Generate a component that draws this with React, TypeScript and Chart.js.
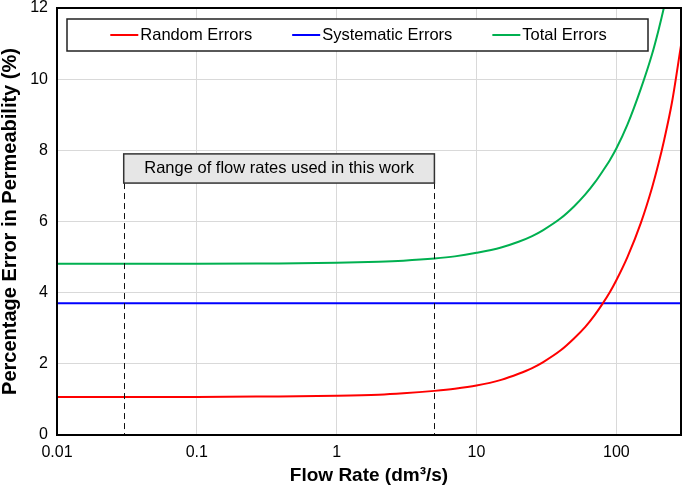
import { useEffect, useRef } from "react";
import { Chart, registerables } from "chart.js";

Chart.register(...registerables);

const flowRates = [0.01, 0.03, 0.1, 0.3, 1, 2, 3, 5, 7, 10, 15, 20, 25, 30, 40, 50, 60, 70, 80, 90, 100, 120, 150, 180, 200, 220, 250, 290];
const randomErrors = [1.07, 1.07, 1.07, 1.08, 1.1, 1.13, 1.17, 1.24, 1.3, 1.39, 1.55, 1.72, 1.88, 2.05, 2.38, 2.72, 3.04, 3.37, 3.7, 4.02, 4.35, 5.0, 5.97, 6.95, 7.62, 8.3, 9.35, 10.95];
const totalErrors = [4.81, 4.81, 4.81, 4.82, 4.84, 4.87, 4.9, 4.96, 5.02, 5.12, 5.27, 5.43, 5.59, 5.76, 6.09, 6.43, 6.76, 7.09, 7.42, 7.73, 8.05, 8.72, 9.74, 10.7, 11.37, 12.05, 13.1, 14.7];
const systematicFlow = [0.01, 290];
const systematicErrors = [3.7, 3.7];

const xTickValues = [0.01, 0.1, 1, 10, 100];
const xMin = 0.01;
const xMax = 290;
const yMin = 0;
const yMax = 12;
const yStep = 2;

const rangeLow = 0.03;
const rangeHigh = 5;
const rangeBoxTop = 7.9;
const rangeBoxBottom = 7.08;
const rangeLabel = "Range of flow rates used in this work";

const seriesLabels = ["Random Errors", "Systematic Errors", "Total Errors"];
const FONT = 'Arial, "Liberation Sans", sans-serif';

const overlayPlugin = {
  id: "overlay",
  afterDatasetsDraw(chart: any) {
    const ctx = chart.ctx;
    const area = chart.chartArea;
    const xs = chart.scales.x;
    const ys = chart.scales.y;
    ctx.save();

    // Range annotation
    const x1 = xs.getPixelForValue(rangeLow);
    const x2 = xs.getPixelForValue(rangeHigh);
    const yT = ys.getPixelForValue(rangeBoxTop);
    const yB = ys.getPixelForValue(rangeBoxBottom);
    ctx.setLineDash([6, 4]);
    ctx.strokeStyle = "#111";
    ctx.lineWidth = 1;
    [x1, x2].forEach((x) => {
      ctx.beginPath();
      ctx.moveTo(Math.round(x) + 0.5, yB);
      ctx.lineTo(Math.round(x) + 0.5, area.bottom);
      ctx.stroke();
    });
    ctx.setLineDash([]);
    ctx.fillStyle = "#e6e6e6";
    ctx.fillRect(x1, yT, x2 - x1, yB - yT);
    ctx.strokeStyle = "#333";
    ctx.lineWidth = 1.5;
    ctx.strokeRect(x1, yT, x2 - x1, yB - yT);
    ctx.fillStyle = "#000";
    ctx.font = "16.5px " + FONT;
    ctx.textAlign = "center";
    ctx.textBaseline = "middle";
    ctx.fillText(rangeLabel, (x1 + x2) / 2, (yT + yB) / 2);

    // Legend box
    const bx = area.left + 10;
    const by = area.top + 11;
    const bw = 581;
    const bh = 32;
    ctx.fillStyle = "#fff";
    ctx.fillRect(bx, by, bw, bh);
    ctx.strokeStyle = "#222";
    ctx.lineWidth = 1.5;
    ctx.strokeRect(bx, by, bw, bh);
    const items = chart.data.datasets.map((d: any) => ({ label: d.label, color: d.borderColor }));
    const lineLen = 28;
    const gap = 2;
    const spacing = 40;
    ctx.font = "16.5px " + FONT;
    const widths = items.map((it: any) => lineLen + gap + ctx.measureText(it.label).width);
    const total = widths.reduce((a: number, b: number) => a + b, 0) + spacing * (items.length - 1);
    let cx = bx + (bw - total) / 2 + 1;
    const cy = by + bh / 2;
    ctx.textAlign = "left";
    items.forEach((it: any, i: number) => {
      ctx.strokeStyle = it.color;
      ctx.lineWidth = 2;
      ctx.beginPath();
      ctx.moveTo(cx, cy);
      ctx.lineTo(cx + lineLen, cy);
      ctx.stroke();
      ctx.fillStyle = "#000";
      ctx.fillText(it.label, cx + lineLen + gap, cy);
      cx += widths[i] + spacing;
    });

    // Frame
    ctx.strokeStyle = "#000";
    ctx.lineWidth = 2;
    ctx.strokeRect(area.left, area.top, area.right - area.left, area.bottom - area.top);
    ctx.restore();
  },
};

export default function App() {
  const ref = useRef<HTMLCanvasElement | null>(null);
  useEffect(() => {
    document.body.style.margin = "0";
    const canvas = ref.current;
    if (!canvas) return;
    const chart = new Chart(canvas, {
      type: "line",
      data: {
        datasets: [
          {
            label: seriesLabels[0],
            data: flowRates.map((x, i) => ({ x, y: randomErrors[i] })),
            borderColor: "#ff0000",
            borderWidth: 2,
            pointRadius: 0,
            cubicInterpolationMode: "monotone",
          },
          {
            label: seriesLabels[1],
            data: systematicFlow.map((x, i) => ({ x, y: systematicErrors[i] })),
            borderColor: "#0000ff",
            borderWidth: 2,
            pointRadius: 0,
          },
          {
            label: seriesLabels[2],
            data: flowRates.map((x, i) => ({ x, y: totalErrors[i] })),
            borderColor: "#00b050",
            borderWidth: 2,
            pointRadius: 0,
            cubicInterpolationMode: "monotone",
          },
        ],
      },
      options: {
        responsive: false,
        devicePixelRatio: 1,
        animation: false,
        layout: { padding: { top: 8, right: 4, left: 0, bottom: 0 } },
        plugins: { legend: { display: false }, tooltip: { enabled: false } },
        scales: {
          x: {
            type: "logarithmic",
            min: xMin,
            max: xMax,
            afterBuildTicks: (s: any) => {
              s.ticks = xTickValues.map((v) => ({ value: v }));
            },
            afterFit: (s: any) => {
              s.height = 53;
              s.paddingLeft = 0;
              s.paddingRight = 0;
            },
            grid: { color: "#d9d9d9", lineWidth: 1, drawTicks: false },
            border: { display: false },
            ticks: {
              autoSkip: false,
              maxRotation: 0,
              padding: 8,
              color: "#000",
              font: { size: 16, family: FONT },
              callback: (v: any) => String(v),
            },
            title: {
              display: true,
              text: "Flow Rate (dm³/s)",
              color: "#000",
              font: { size: 19, weight: "bold", family: FONT },
              padding: { top: 0, bottom: 1 },
            },
          },
          y: {
            min: yMin,
            max: yMax,
            afterFit: (s: any) => {
              s.width = 57;
              s.paddingTop = 0;
              s.paddingBottom = 0;
            },
            grid: { color: "#d9d9d9", lineWidth: 1, drawTicks: false },
            border: { display: false },
            ticks: {
              stepSize: yStep,
              padding: 9,
              color: "#000",
              font: { size: 16, family: FONT },
            },
            title: {
              display: true,
              text: "Percentage Error in Permeability (%)",
              color: "#000",
              font: { size: 20, weight: "bold", family: FONT, lineHeight: 1 },
              padding: { top: 0, bottom: 0 },
            },
          },
        },
      },
      plugins: [overlayPlugin],
    } as any);
    return () => chart.destroy();
  }, []);
  return <canvas ref={ref} width={685} height={488} style={{ display: "block" }} />;
}
